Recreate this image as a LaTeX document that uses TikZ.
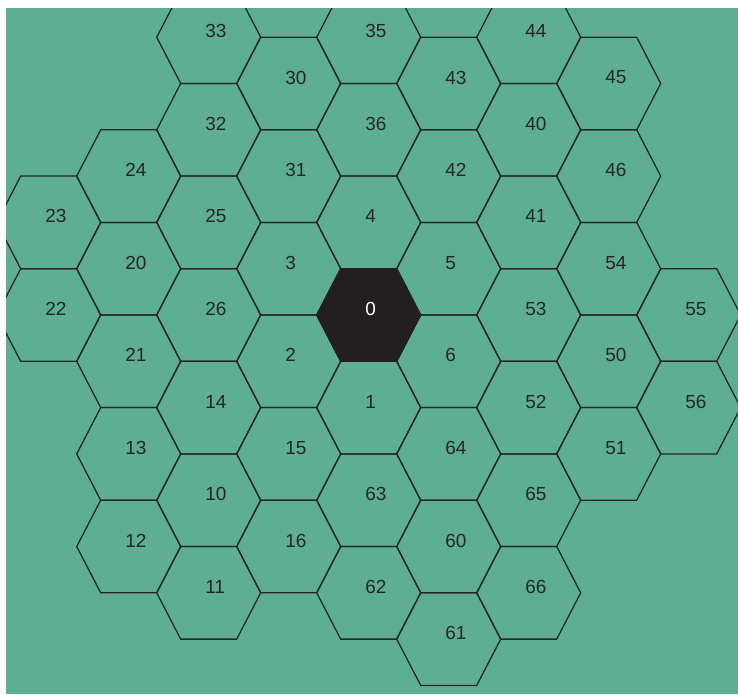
\documentclass[tikz,border=0pt]{standalone}
\usepackage{fontspec}
\newfontfamily\cellfont{Liberation Sans}
\definecolor{fieldgreen}{RGB}{93,174,146}
\definecolor{hexline}{RGB}{38,38,38}
\definecolor{hexdark}{RGB}{35,31,32}

\begin{document}
\begin{tikzpicture}[x=0.75pt,y=-0.75pt,
  cell/.style={draw=hexline,line width=0.95pt,line join=miter},
  centre/.style={cell,fill=hexdark,draw=hexdark},
  lbl/.style={anchor=west,inner sep=0pt,font=\cellfont\fontsize{14.2}{14}\selectfont,text=hexline}
]
\useasboundingbox (0,0) rectangle (738,694);
\fill[white] (0,0) rectangle (738,694);
\fill[fieldgreen] (6,8) rectangle (738,694);
\clip (6,8) rectangle (738,694);
% column / row (in half steps) / number
\foreach \c/\r/\n in {0/-1/23,0/0/22,
  1/-1.5/24,1/-0.5/20,1/0.5/21,1/1.5/13,1/2.5/12,
  2/-3/33,2/-2/32,2/-1/25,2/0/26,2/1/14,2/2/10,2/3/11,
  3/-2.5/30,3/-1.5/31,3/-0.5/3,3/0.5/2,3/1.5/15,3/2.5/16,
  4/-3/35,4/-2/36,4/-1/4,4/1/1,4/2/63,4/3/62,
  5/-2.5/43,5/-1.5/42,5/-0.5/5,5/0.5/6,5/1.5/64,5/2.5/60,5/3.5/61,
  6/-3/44,6/-2/40,6/-1/41,6/0/53,6/1/52,6/2/65,6/3/66,
  7/-2.5/45,7/-1.5/46,7/-0.5/54,7/0.5/50,7/1.5/51,
  8/0/55,8/1/56}{
  \draw[cell,shift={(48.7+80*\c,315+92.6*\r)}] (-52,0) -- (-28,-46.3) -- (28,-46.3) -- (52,0) -- (28,46.3) -- (-28,46.3) -- cycle;
  \node[lbl] (h\n) at (45+80*\c,309+92.6*\r) {\n};
}
\draw[centre,shift={(368.7,315)}] (-52,0) -- (-28,-46.3) -- (28,-46.3) -- (52,0) -- (28,46.3) -- (-28,46.3) -- cycle;
\node[lbl,text=white] (h0) at (365,309) {0};
\end{tikzpicture}
\end{document}
